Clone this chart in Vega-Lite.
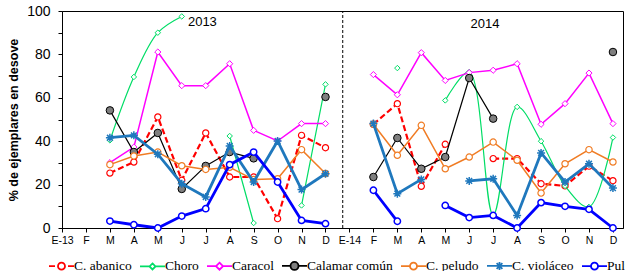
{
  "$schema": "https://vega.github.io/schema/vega-lite/v6.json",
  "width": 561,
  "height": 217,
  "autosize": {"type": "none"},
  "padding": {"left": 62, "top": 11, "right": 2, "bottom": 43},
  "background": "white",
  "config": {
    "view": {"stroke": "black", "strokeWidth": 1},
    "axis": {"grid": false, "domainColor": "black", "tickColor": "black", "labelColor": "black", "titleColor": "black", "labelFont": "Liberation Sans", "titleFont": "Liberation Sans"}
  },
  "datasets": {
    "d": [
      {"s": "C. abanico", "i": 2, "v": 25.3}, {"s": "C. abanico", "i": 3, "v": 30.4}, {"s": "C. abanico", "i": 4, "v": 51.2}, {"s": "C. abanico", "i": 5, "v": 22.0}, {"s": "C. abanico", "i": 6, "v": 43.8}, {"s": "C. abanico", "i": 7, "v": 23.5}, {"s": "C. abanico", "i": 8, "v": 23.5}, {"s": "C. abanico", "i": 9, "v": 4.3}, {"s": "C. abanico", "i": 10, "v": 42.7}, {"s": "C. abanico", "i": 11, "v": 37.0}, {"s": "C. abanico", "i": 12, "v": null}, {"s": "C. abanico", "i": 13, "v": 47.8}, {"s": "C. abanico", "i": 14, "v": 57.3}, {"s": "C. abanico", "i": 15, "v": 19.2}, {"s": "C. abanico", "i": 16, "v": 38.6}, {"s": "C. abanico", "i": 17, "v": null}, {"s": "C. abanico", "i": 18, "v": 32.0}, {"s": "C. abanico", "i": 19, "v": 32.0}, {"s": "C. abanico", "i": 20, "v": 20.4}, {"s": "C. abanico", "i": 21, "v": 19.4}, {"s": "C. abanico", "i": 22, "v": 28.5}, {"s": "C. abanico", "i": 23, "v": 21.8},
      {"s": "Choro", "i": 2, "v": 40.4}, {"s": "Choro", "i": 3, "v": 69.6}, {"s": "Choro", "i": 4, "v": 90.0}, {"s": "Choro", "i": 5, "v": 97.5}, {"s": "Choro", "i": 6, "v": null}, {"s": "Choro", "i": 7, "v": 42.4}, {"s": "Choro", "i": 8, "v": 2.3}, {"s": "Choro", "i": 9, "v": null}, {"s": "Choro", "i": 10, "v": 10.4}, {"s": "Choro", "i": 11, "v": 66.2}, {"s": "Choro", "i": 12, "v": null}, {"s": "Choro", "i": 13, "v": null}, {"s": "Choro", "i": 14, "v": 73.7}, {"s": "Choro", "i": 15, "v": null}, {"s": "Choro", "i": 16, "v": 58.8}, {"s": "Choro", "i": 17, "v": 71.9}, {"s": "Choro", "i": 18, "v": 6.0}, {"s": "Choro", "i": 19, "v": 55.8}, {"s": "Choro", "i": 20, "v": 40.0}, {"s": "Choro", "i": 21, "v": 19.4}, {"s": "Choro", "i": 22, "v": 9.7}, {"s": "Choro", "i": 23, "v": 41.7},
      {"s": "Caracol", "i": 2, "v": 30.1}, {"s": "Caracol", "i": 3, "v": 37.3}, {"s": "Caracol", "i": 4, "v": 81.1}, {"s": "Caracol", "i": 5, "v": 65.6}, {"s": "Caracol", "i": 6, "v": 65.6}, {"s": "Caracol", "i": 7, "v": 75.7}, {"s": "Caracol", "i": 8, "v": 45.0}, {"s": "Caracol", "i": 9, "v": 40.1}, {"s": "Caracol", "i": 10, "v": 48.1}, {"s": "Caracol", "i": 11, "v": 48.1}, {"s": "Caracol", "i": 12, "v": null}, {"s": "Caracol", "i": 13, "v": 70.7}, {"s": "Caracol", "i": 14, "v": 61.4}, {"s": "Caracol", "i": 15, "v": 80.8}, {"s": "Caracol", "i": 16, "v": 68.0}, {"s": "Caracol", "i": 17, "v": 71.6}, {"s": "Caracol", "i": 18, "v": 72.7}, {"s": "Caracol", "i": 19, "v": 75.7}, {"s": "Caracol", "i": 20, "v": 47.8}, {"s": "Caracol", "i": 21, "v": 57.3}, {"s": "Caracol", "i": 22, "v": 71.4}, {"s": "Caracol", "i": 23, "v": 48.1},
      {"s": "Calamar común", "i": 2, "v": 54.2}, {"s": "Calamar común", "i": 3, "v": 35.0}, {"s": "Calamar común", "i": 4, "v": 43.8}, {"s": "Calamar común", "i": 5, "v": 18.0}, {"s": "Calamar común", "i": 6, "v": 28.6}, {"s": "Calamar común", "i": 7, "v": 35.0}, {"s": "Calamar común", "i": 8, "v": 32.1}, {"s": "Calamar común", "i": 9, "v": null}, {"s": "Calamar común", "i": 10, "v": null}, {"s": "Calamar común", "i": 11, "v": 60.4}, {"s": "Calamar común", "i": 12, "v": null}, {"s": "Calamar común", "i": 13, "v": 23.5}, {"s": "Calamar común", "i": 14, "v": 41.5}, {"s": "Calamar común", "i": 15, "v": 27.3}, {"s": "Calamar común", "i": 16, "v": 32.7}, {"s": "Calamar común", "i": 17, "v": 69.1}, {"s": "Calamar común", "i": 18, "v": 50.4}, {"s": "Calamar común", "i": 19, "v": null}, {"s": "Calamar común", "i": 22, "v": null}, {"s": "Calamar común", "i": 23, "v": 81.1},
      {"s": "C. peludo", "i": 2, "v": 29.2}, {"s": "C. peludo", "i": 3, "v": 33.2}, {"s": "C. peludo", "i": 4, "v": 35.0}, {"s": "C. peludo", "i": 5, "v": 28.7}, {"s": "C. peludo", "i": 6, "v": 27.0}, {"s": "C. peludo", "i": 7, "v": 28.0}, {"s": "C. peludo", "i": 8, "v": 22.3}, {"s": "C. peludo", "i": 9, "v": 22.7}, {"s": "C. peludo", "i": 10, "v": 36.1}, {"s": "C. peludo", "i": 11, "v": 25.1}, {"s": "C. peludo", "i": 12, "v": null}, {"s": "C. peludo", "i": 13, "v": 47.8}, {"s": "C. peludo", "i": 14, "v": 33.5}, {"s": "C. peludo", "i": 15, "v": 47.3}, {"s": "C. peludo", "i": 16, "v": 27.3}, {"s": "C. peludo", "i": 17, "v": 32.7}, {"s": "C. peludo", "i": 18, "v": 39.6}, {"s": "C. peludo", "i": 19, "v": 31.2}, {"s": "C. peludo", "i": 20, "v": 16.1}, {"s": "C. peludo", "i": 21, "v": 29.6}, {"s": "C. peludo", "i": 22, "v": 36.1}, {"s": "C. peludo", "i": 23, "v": 30.4},
      {"s": "C. violáceo", "i": 2, "v": 41.6}, {"s": "C. violáceo", "i": 3, "v": 42.7}, {"s": "C. violáceo", "i": 4, "v": 34.0}, {"s": "C. violáceo", "i": 5, "v": 20.4}, {"s": "C. violáceo", "i": 6, "v": 14.3}, {"s": "C. violáceo", "i": 7, "v": 37.8}, {"s": "C. violáceo", "i": 8, "v": 21.2}, {"s": "C. violáceo", "i": 9, "v": 40.1}, {"s": "C. violáceo", "i": 10, "v": 17.7}, {"s": "C. violáceo", "i": 11, "v": 25.0}, {"s": "C. violáceo", "i": 12, "v": null}, {"s": "C. violáceo", "i": 13, "v": 48.1}, {"s": "C. violáceo", "i": 14, "v": 15.8}, {"s": "C. violáceo", "i": 15, "v": 22.4}, {"s": "C. violáceo", "i": 16, "v": null}, {"s": "C. violáceo", "i": 17, "v": 21.7}, {"s": "C. violáceo", "i": 18, "v": 22.7}, {"s": "C. violáceo", "i": 19, "v": 5.8}, {"s": "C. violáceo", "i": 20, "v": 34.6}, {"s": "C. violáceo", "i": 21, "v": 21.2}, {"s": "C. violáceo", "i": 22, "v": 29.6}, {"s": "C. violáceo", "i": 23, "v": 18.4},
      {"s": "Pulpo", "i": 2, "v": 3.2}, {"s": "Pulpo", "i": 3, "v": 1.5}, {"s": "Pulpo", "i": 4, "v": 0}, {"s": "Pulpo", "i": 5, "v": 5.5}, {"s": "Pulpo", "i": 6, "v": 8.9}, {"s": "Pulpo", "i": 7, "v": 29.2}, {"s": "Pulpo", "i": 8, "v": 35.0}, {"s": "Pulpo", "i": 9, "v": 21.2}, {"s": "Pulpo", "i": 10, "v": 3.5}, {"s": "Pulpo", "i": 11, "v": 2.0}, {"s": "Pulpo", "i": 12, "v": null}, {"s": "Pulpo", "i": 13, "v": 17.4}, {"s": "Pulpo", "i": 14, "v": 3.1}, {"s": "Pulpo", "i": 15, "v": null}, {"s": "Pulpo", "i": 16, "v": 10.4}, {"s": "Pulpo", "i": 17, "v": 4.8}, {"s": "Pulpo", "i": 18, "v": 5.8}, {"s": "Pulpo", "i": 19, "v": 0}, {"s": "Pulpo", "i": 20, "v": 11.7}, {"s": "Pulpo", "i": 21, "v": 10.0}, {"s": "Pulpo", "i": 22, "v": 8.6}, {"s": "Pulpo", "i": 23, "v": 0}
    ],
    "yr": [{"t": "2013", "i": 5.86, "v": 94.9}, {"t": "2014", "i": 17.66, "v": 94.2}],
    "sep": [{"i": 11.72, "v": 0, "v2": 100}]
  },
  "data": {"name": "d"},
  "encoding": {
    "x": {
      "field": "i", "type": "quantitative",
      "scale": {"domain": [0, 23.42], "nice": false, "zero": false},
      "axis": {
        "title": null, "values": [0,1,2,3,4,5,6,7,8,9,10,11,12,13,14,15,16,17,18,19,20,21,22,23],
        "labelExpr": "['E-13','F','M','A','M','J','J','A','S','O','N','D','E-14','F','M','A','M','J','J','A','S','O','N','D'][datum.value]",
        "labelFontSize": 10.5, "tickSize": 4, "labelPadding": 3, "labelFlush": false, "labelOverlap": false, "labelBound": false
      }
    },
    "y": {
      "field": "v", "type": "quantitative",
      "scale": {"domain": [0, 100], "nice": false},
      "axis": {
        "title": "% de ejemplares en desove", "titleFontSize": 12.5, "titleFontWeight": "bold", "titlePadding": 6,
        "values": [0,10,20,30,40,50,60,70,80,90,100],
        "labelExpr": "datum.value % 20 === 0 ? datum.label : ''",
        "labelFontSize": 14, "tickSize": 4, "labelPadding": 8, "labelFlush": false, "labelOverlap": false
      }
    },
    "color": {
      "field": "s", "type": "nominal",
      "scale": {
        "domain": ["C. abanico", "Choro", "Caracol", "Calamar común", "C. peludo", "C. violáceo", "Pulpo"],
        "range": ["#ff0000", "#00dd66", "#ff00ff", "#000000", "#f07c24", "#1f78bd", "#0000ff"]
      },
      "legend": {
        "orient": "none", "legendX": -14, "legendY": 241, "direction": "horizontal", "title": null,
        "symbolSize": 625, "symbolStrokeWidth": 1.8, "labelFont": "Liberation Sans Narrow", "labelFontSize": 13.5, "labelColor": "black",
        "labelOffset": -1, "columnPadding": 4, "labelLimit": 300,
        "encode": {
          "symbols": {
            "update": {
              "size": {"value": 625},
              "shape": {"signal": "['M-1,0H-0.52M0.52,0H1M0.28,0A0.28,0.28 0 1,1 -0.28,0A0.28,0.28 0 1,1 0.28,0Z','M-1,0H-0.24M0.24,0H1M0,-0.24L0.24,0L0,0.24L-0.24,0Z','M-1,0H-0.28M0.28,0H1M0,-0.28L0.28,0L0,0.28L-0.28,0Z','M-1,0H-0.32M0.32,0H1M0.32,0A0.32,0.32 0 1,1 -0.32,0A0.32,0.32 0 1,1 0.32,0Z','M-1,0H-0.28M0.28,0H1M0.28,0A0.28,0.28 0 1,1 -0.28,0A0.28,0.28 0 1,1 0.28,0Z','M-1,0H1M0,-0.32V0.32M-0.23,-0.23L0.23,0.23M-0.23,0.23L0.23,-0.23','M-1,0H-0.28M0.28,0H1M0.28,0A0.28,0.28 0 1,1 -0.28,0A0.28,0.28 0 1,1 0.28,0Z'][indexof(['C. abanico','Choro','Caracol','Calamar común','C. peludo','C. violáceo','Pulpo'], datum.value)]"},
              "fill": {"signal": "['white','white','white','#7f7f7f','white','transparent','white'][indexof(['C. abanico','Choro','Caracol','Calamar común','C. peludo','C. violáceo','Pulpo'], datum.value)]"},
              "stroke": {"signal": "scale('color', datum.value)"},
              "opacity": {"value": 1}
            }
          }
        }
      }
    }
  },
  "layer": [
    {
      "transform": [{"filter": "datum.s === 'C. abanico'"}],
      "layer": [
        {"mark": {"type": "line", "strokeWidth": 2.2, "strokeDash": [6, 3], "invalid": "break-paths-filter-domains"}},
        {"mark": {"type": "point", "shape": "circle", "filled": false, "fill": "white", "fillOpacity": 1, "opacity": 1, "size": 38, "strokeWidth": 1.2}}
      ]
    },
    {
      "transform": [{"filter": "datum.s === 'Choro'"}],
      "layer": [
        {"mark": {"type": "line", "strokeWidth": 1.2, "interpolate": "catmull-rom", "invalid": "break-paths-filter-domains"}},
        {"mark": {"type": "point", "shape": "diamond", "filled": false, "fill": "white", "fillOpacity": 1, "opacity": 1, "size": 30, "strokeWidth": 1}}
      ]
    },
    {
      "transform": [{"filter": "datum.s === 'Caracol'"}],
      "layer": [
        {"mark": {"type": "line", "strokeWidth": 1.5, "invalid": "break-paths-filter-domains"}},
        {"mark": {"type": "point", "shape": "diamond", "filled": false, "fill": "white", "fillOpacity": 1, "opacity": 1, "size": 38, "strokeWidth": 1}}
      ]
    },
    {
      "transform": [{"filter": "datum.s === 'Calamar común'"}],
      "layer": [
        {"mark": {"type": "line", "strokeWidth": 1.2, "invalid": "break-paths-filter-domains"}},
        {"mark": {"type": "point", "shape": "circle", "filled": false, "fill": "#7f7f7f", "fillOpacity": 1, "opacity": 1, "size": 57, "strokeWidth": 1}}
      ]
    },
    {
      "transform": [{"filter": "datum.s === 'C. peludo'"}],
      "layer": [
        {"mark": {"type": "line", "strokeWidth": 1.5, "invalid": "break-paths-filter-domains"}},
        {"mark": {"type": "point", "shape": "circle", "filled": false, "fill": "white", "fillOpacity": 1, "opacity": 1, "size": 40, "strokeWidth": 1.2}}
      ]
    },
    {
      "transform": [{"filter": "datum.s === 'C. violáceo'"}],
      "layer": [
        {"mark": {"type": "line", "strokeWidth": 2.8, "invalid": "break-paths-filter-domains"}},
        {"mark": {"type": "point", "shape": "M0,-1V1M-0.72,-0.72L0.72,0.72M-0.72,0.72L0.72,-0.72M-1,0H1", "filled": false, "opacity": 1, "size": 64, "strokeWidth": 1.5}}
      ]
    },
    {
      "transform": [{"filter": "datum.s === 'Pulpo'"}],
      "layer": [
        {"mark": {"type": "line", "strokeWidth": 2.8, "invalid": "break-paths-filter-domains"}},
        {"mark": {"type": "point", "shape": "circle", "filled": false, "fill": "white", "fillOpacity": 1, "opacity": 1, "size": 40, "strokeWidth": 1.5}}
      ]
    },
    {
      "data": {"name": "sep"},
      "mark": {"type": "rule", "strokeDash": [3, 2], "strokeWidth": 1},
      "encoding": {"y2": {"field": "v2"}, "color": {"value": "black"}}
    },
    {
      "data": {"name": "yr"},
      "mark": {"type": "text", "font": "Liberation Sans", "fontSize": 13, "align": "center", "baseline": "middle"},
      "encoding": {"text": {"field": "t"}, "color": {"value": "#000000"}}
    }
  ]
}
